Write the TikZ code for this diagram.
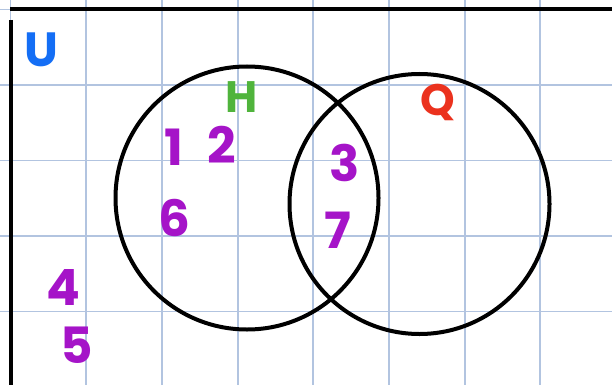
\documentclass[tikz,border=0pt]{standalone}
\usepackage{fontspec}
\setmainfont{Poppins}
\definecolor{gridc}{RGB}{178,196,224}
\definecolor{ublue}{RGB}{20,110,245}
\definecolor{hgreen}{RGB}{80,180,60}
\definecolor{qred}{RGB}{235,50,30}
\definecolor{numc}{RGB}{165,20,200}
\begin{document}
\begin{tikzpicture}[x=1pt,y=-1pt,
  gridline/.style={draw=gridc,line width=1.3pt},
  frame/.style={draw=black,line width=3.5pt},
  setc/.style={circle,draw=black,line width=4pt,inner sep=0pt},
  lbl/.style={inner sep=0pt,font=\fontsize{44}{44}\selectfont\bfseries},
  num/.style={inner sep=0pt,text=numc,font=\fontsize{50}{50}\selectfont\bfseries}]
\useasboundingbox (0,0) rectangle (612,385);
\fill[white] (0,0) rectangle (612,385);
\foreach \y in {9.5,85,160.5,236,311.5} \draw[gridline] (0,\y) -- (612,\y);
\foreach \x in {10.5,86,162,238,313,389,465,540} \draw[gridline] (\x,0) -- (\x,385);
\coordinate (tl) at (10,9);
\coordinate (tr) at (612,9);
\coordinate (lt) at (11,20);
\coordinate (lb) at (11,385);
\draw[frame] (tl) -- (tr);
\draw[frame] (lt) -- (lb);
\node[setc,minimum size=263pt] (Hc) at (247,198) {};
\node[setc,minimum size=260pt] (Qc) at (419.5,204) {};
\node[lbl,text=ublue,font=\fontsize{48}{48}\selectfont\bfseries] (U) at (41,50) {U};
\node[lbl,text=hgreen] (H) at (242,97) {H};
\node[lbl,text=qred] (Q) at (438,102) {Q};
\node[num] (n1) at (174,147) {1};
\node[num] (n2) at (222,145) {2};
\node[num] (n3) at (345,163) {3};
\node[num] (n6) at (174,218) {6};
\node[num] (n7) at (338,230) {7};
\node[num] (n4) at (63,287) {4};
\node[num] (n5) at (77,345) {5};
\end{tikzpicture}
\end{document}
